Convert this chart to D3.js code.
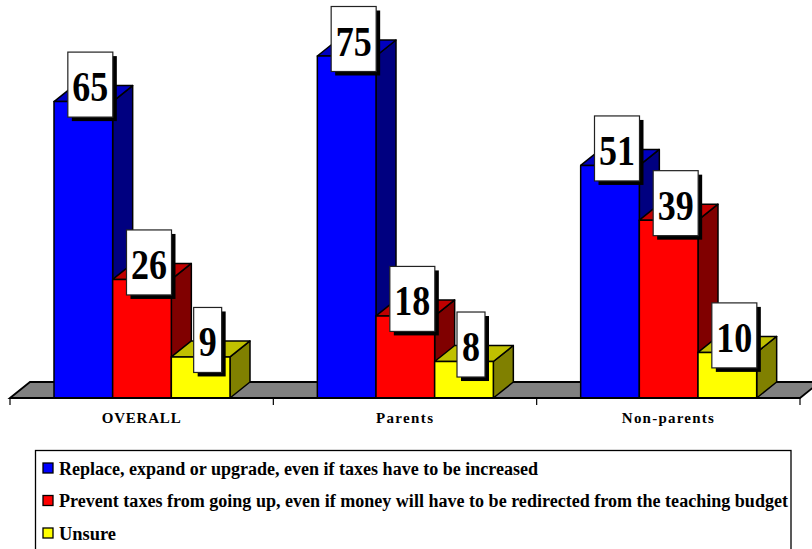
<!DOCTYPE html>
<html>
<head>
<meta charset="utf-8">
<script src="https://cdn.jsdelivr.net/npm/d3@7"></script>
<style>
html,body{margin:0;padding:0;background:#fff;overflow:hidden}
text{font-family:"Liberation Serif",serif;font-weight:bold;fill:#000}
</style>
</head>
<body>
<svg id="c" width="812" height="549"></svg>
<script>
const categories = ["OVERALL", "Parents", "Non-parents"];
const seriesNames = [
  "Replace, expand or upgrade, even if taxes have to be increased",
  "Prevent taxes from going up, even if money will have to be redirected from the teaching budget",
  "Unsure"
];
const replaceValues = [65, 75, 51];
const preventValues = [26, 18, 39];
const unsureValues = [9, 8, 10];
const frontColors = ["#0000ff", "#ff0000", "#ffff00"];
const sideColors = ["#000080", "#800000", "#808000"];
const topColors = ["#0000c0", "#c00000", "#c0c000"];
const legendWidths = [479, 729, 57];
const categoryWidths = [79, 57, 92];

const allValues = [replaceValues, preventValues, unsureValues];
const svg = d3.select("#c");
const baseY = 398, depthX = 20, depthY = 16;

const x = d3.scaleBand().domain(categories).range([10, 800]);
const inner = d3.scaleBand().domain(d3.range(3)).range([44, 220]);
const y = d3.scaleLinear().domain([0, 75]).range([baseY, 56]);

// floor
const floorPts = [[10, baseY], [10 + depthX, baseY - depthY], [800 + depthX, baseY - depthY], [800, baseY]];
svg.append("polygon").attr("points", floorPts.join(" "))
  .attr("fill", "#808080").attr("stroke", "#000").attr("stroke-width", 1.8);

// bars
const barsG = svg.append("g").attr("stroke", "#000").attr("stroke-width", 1.5).attr("stroke-linejoin", "round");
categories.forEach((cat, ci) => {
  allValues.forEach((vals, si) => {
    const x0 = x(cat) + inner(si), x1 = x0 + inner.bandwidth();
    const yt = y(vals[ci]);
    barsG.append("polygon")
      .attr("points", [[x1, baseY], [x1 + depthX, baseY - depthY], [x1 + depthX, yt - depthY], [x1, yt]].join(" "))
      .attr("fill", sideColors[si]);
    barsG.append("polygon")
      .attr("points", [[x0, yt], [x0 + depthX, yt - depthY], [x1 + depthX, yt - depthY], [x1, yt]].join(" "))
      .attr("fill", topColors[si]);
    barsG.append("rect").attr("x", x0).attr("y", yt)
      .attr("width", x1 - x0).attr("height", baseY - yt).attr("fill", frontColors[si]);
  });
});

// axis line, ticks, labels
svg.append("line").attr("x1", 10).attr("x2", 800).attr("y1", baseY).attr("y2", baseY)
  .attr("stroke", "#000").attr("stroke-width", 1.8);
const edges = categories.map(c => x(c)).concat([x.range()[1]]);
svg.selectAll(".tk").data(edges).join("line").attr("class", "tk")
  .attr("x1", d => d).attr("x2", d => d).attr("y1", baseY).attr("y2", baseY + 7)
  .attr("stroke", "#000").attr("stroke-width", 1.2);
svg.selectAll(".cat").data(categories).join("text").attr("class", "cat")
  .attr("x", d => x(d) + x.bandwidth() / 2 - 0.5).attr("y", 423)
  .attr("text-anchor", "middle").attr("font-size", 15)
  .attr("textLength", (d, i) => categoryWidths[i]).attr("lengthAdjust", "spacing")
  .text(d => d);

// value labels
categories.forEach((cat, ci) => {
  allValues.forEach((vals, si) => {
    const v = vals[ci];
    const two = String(v).length > 1;
    const cx = x(cat) + inner(si) + inner.bandwidth() / 2 + 7;
    const cy = y(v) - 17;
    const w = two ? 45 : 28, h = 65;
    svg.append("rect").attr("x", cx - w / 2 + 4).attr("y", cy - h / 2 + 4)
      .attr("width", w).attr("height", h).attr("fill", "#000");
    svg.append("rect").attr("x", cx - w / 2).attr("y", cy - h / 2)
      .attr("width", w).attr("height", h).attr("fill", "#fff")
      .attr("stroke", "#222").attr("stroke-width", 1.2);
    svg.append("text").attr("x", cx).attr("y", cy + 16.5)
      .attr("text-anchor", "middle").attr("font-size", 42)
      .attr("textLength", two ? 36 : 18).attr("lengthAdjust", "spacingAndGlyphs").text(v);
  });
});

// legend
svg.append("rect").attr("x", 35.5).attr("y", 450.5).attr("width", 755.5).attr("height", 110)
  .attr("fill", "#fff").attr("stroke", "#000").attr("stroke-width", 1.3);
const legendY = d3.scalePoint().domain(d3.range(3)).range([469, 534]);
seriesNames.forEach((name, i) => {
  svg.append("rect").attr("x", 43).attr("y", legendY(i) - 6).attr("width", 10).attr("height", 10)
    .attr("fill", frontColors[i]).attr("stroke", "#000").attr("stroke-width", 1.3);
  svg.append("text").attr("x", 59).attr("y", legendY(i) + 5.5)
    .attr("font-size", 18).attr("textLength", legendWidths[i]).attr("lengthAdjust", "spacingAndGlyphs")
    .text(name);
});
</script>
</body>
</html>
